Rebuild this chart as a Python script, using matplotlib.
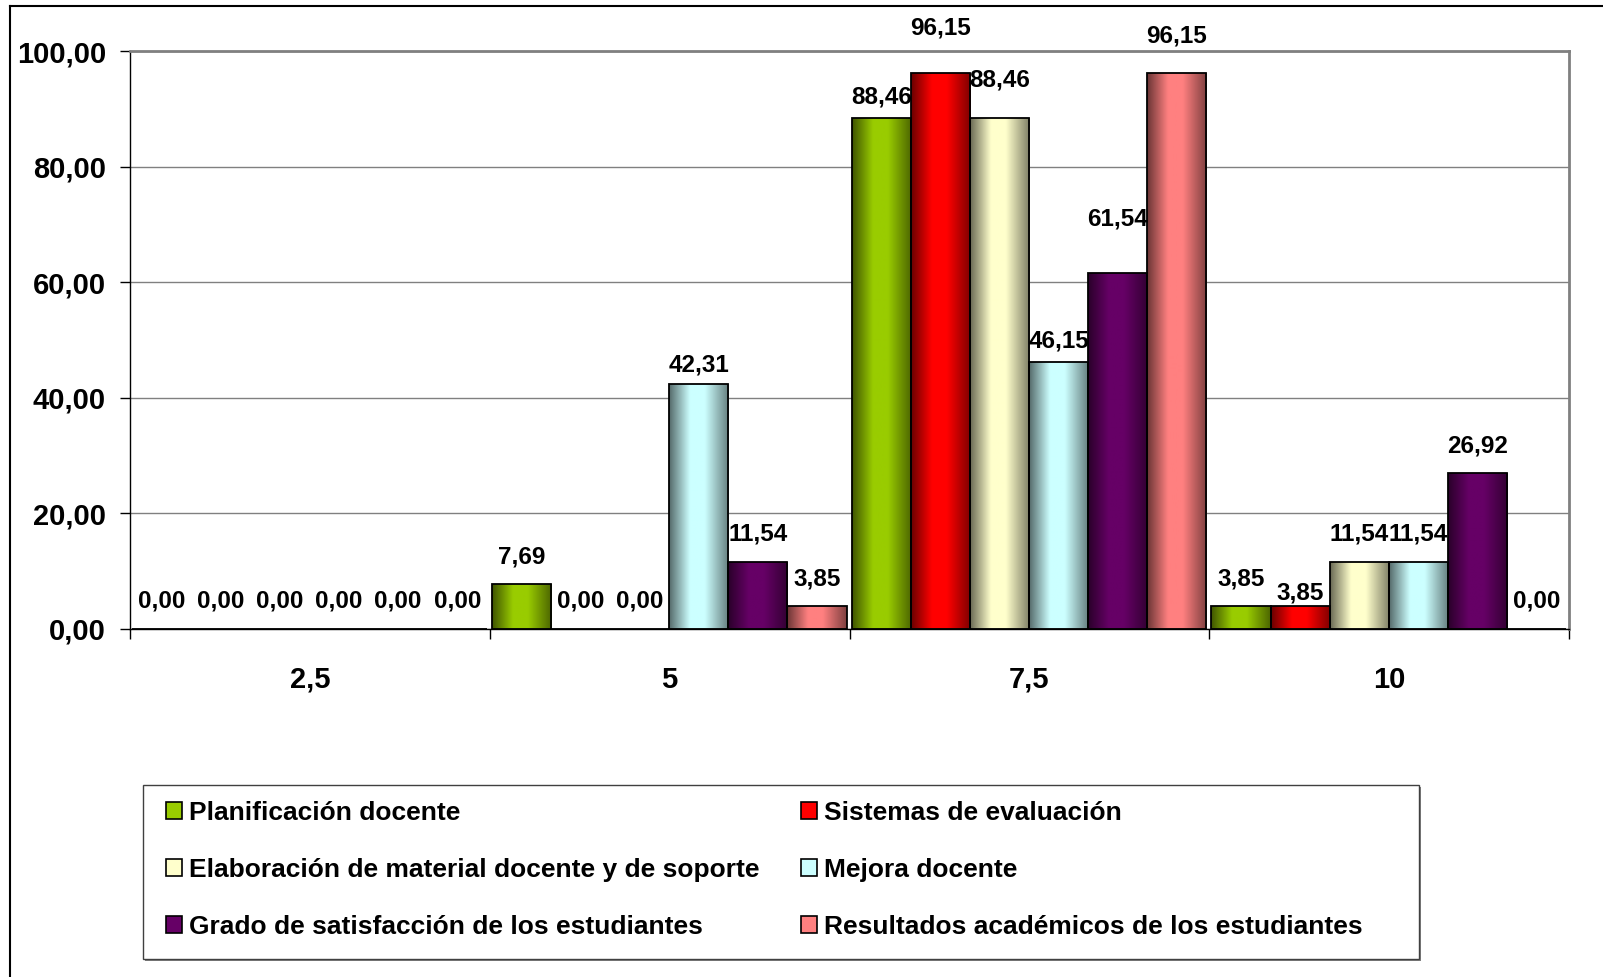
import numpy as np
import matplotlib
matplotlib.use("Agg")
import matplotlib.pyplot as plt
from matplotlib.patches import Patch, Rectangle
from matplotlib.lines import Line2D
from matplotlib.ticker import FuncFormatter

plt.rcParams['font.family'] = ['Liberation Sans', 'DejaVu Sans']
plt.rcParams['font.weight'] = 'bold'

# datos
categories = ['2,5', '5', '7,5', '10']
planificacion = [0.00, 7.69, 88.46, 3.85]
sistemas = [0.00, 0.00, 96.15, 3.85]
elaboracion = [0.00, 0.00, 88.46, 11.54]
mejora = [0.00, 42.31, 46.15, 11.54]
grado = [0.00, 11.54, 61.54, 26.92]
resultados = [0.00, 3.85, 96.15, 0.00]

series_names = ['Planificación docente',
                'Sistemas de evaluación',
                'Elaboración de material docente y de soporte',
                'Mejora docente',
                'Grado de satisfacción de los estudiantes',
                'Resultados académicos de los estudiantes']
series = [planificacion, sistemas, elaboracion, mejora, grado, resultados]
colors = ['#99CC00', '#FF0000', '#FFFFCC', '#CCFFFF', '#660066', '#FF8080']

# desplazamiento extra de las etiquetas (px), como en el original de Excel
label_shift = [[0, 0, -7, 0],
               [0, 0, 18, -14],
               [0, 0, 10, 0],
               [0, -8, -6, 0],
               [0, 0, 27, 0],
               [0, 0, 10, 0]]

W, H = 1603, 977
PX = 72 / 100  # px -> pt


def fmt(v):
    return f"{v:.2f}".replace('.', ',')


def gradient(col):
    rgb = np.array(matplotlib.colors.to_rgb(col))
    t = np.linspace(0, 1, 64)
    f = np.interp(t, [0, 0.35, 0.6, 1], [0.42, 1.0, 1.0, 0.5])
    return (f[:, None] * rgb[None, :])[None, :, :]


fig = plt.figure(figsize=(W / 100, H / 100), dpi=100)
ax = fig.add_axes([130 / W, 1 - 628.7 / H, (1569 - 130) / W, (628.7 - 51.1) / H])

bw = 0.1643
start = 0.006
for j, (vals, col) in enumerate(zip(series, colors)):
    xs = np.arange(len(categories)) + start + j * bw
    bars = ax.bar(xs, vals, width=bw, align='edge', facecolor='none',
                  edgecolor='black', linewidth=1.3, zorder=3)
    for i, b in enumerate(bars):
        h = b.get_height()
        if h > 0:
            ax.imshow(gradient(col), extent=(b.get_x(), b.get_x() + b.get_width(), 0, h),
                      aspect='auto', interpolation='bilinear', zorder=2)
        ax.annotate(fmt(h), (b.get_x() + b.get_width() / 2, h),
                    xytext=(0, (27.6 + label_shift[j][i]) * PX), textcoords='offset points',
                    ha='center', va='center', fontsize=17.5, fontweight='bold',
                    annotation_clip=False, zorder=5)

ax.set_xlim(0, len(categories))
ax.set_ylim(0, 100)
ax.set_yticks(np.arange(0, 101, 20))
ax.yaxis.set_major_formatter(FuncFormatter(lambda v, p: fmt(v)))
ax.yaxis.grid(True, color='#808080', lw=1)
ax.set_axisbelow(True)

ax.set_xticks(np.arange(len(categories) + 1))
ax.set_xticklabels([])
ax.set_xticks(np.arange(len(categories)) + 0.5, minor=True)
ax.set_xticklabels(categories, minor=True)
ax.tick_params(axis='x', which='major', length=10 * PX, width=1, direction='out')
ax.tick_params(axis='x', which='minor', length=0, pad=26.5, labelsize=21)
ax.tick_params(axis='y', length=10 * PX, width=1, pad=10, labelsize=21)

for s in ['left', 'bottom']:
    ax.spines[s].set_color('black')
    ax.spines[s].set_linewidth(1)
for s in ['top', 'right']:
    ax.spines[s].set_color('#808080')
    ax.spines[s].set_linewidth(2)

# marco de la figura
fig.add_artist(Line2D([9.5 / W, 1], [1 - 6 / H, 1 - 6 / H], transform=fig.transFigure,
                      color='black', lw=1.5))
fig.add_artist(Line2D([9.5 / W, 9.5 / W], [0, 1 - 6 / H], transform=fig.transFigure,
                      color='black', lw=1.5))

# marco de la leyenda
lx0, ly0, lx1, ly1 = 143, 785, 1419, 959
fig.add_artist(Rectangle(((lx0 + 2) / W, 1 - (ly1 + 2) / H), (lx1 - lx0) / W, (ly1 - ly0) / H,
                         transform=fig.transFigure, facecolor='#808080', edgecolor='none'))
fig.add_artist(Rectangle((lx0 / W, 1 - ly1 / H), (lx1 - lx0) / W, (ly1 - ly0) / H,
                         transform=fig.transFigure, facecolor='white', edgecolor='#404040', lw=1))

handles = [Patch(facecolor=c, edgecolor='black', lw=1.2) for c in colors]
order = [0, 2, 4, 1, 3, 5]
fig.legend([handles[k] for k in order], [series_names[k] for k in order],
           loc='upper left', bbox_to_anchor=(166 / W, 1 - 801 / H), ncol=2,
           frameon=False, prop={'size': 19, 'weight': 'bold'},
           handlelength=0.6, handleheight=0.6, handletextpad=0.26,
           labelspacing=1.25, columnspacing=1.58, borderpad=0, borderaxespad=0)

fig.savefig('out.png', dpi=100)
